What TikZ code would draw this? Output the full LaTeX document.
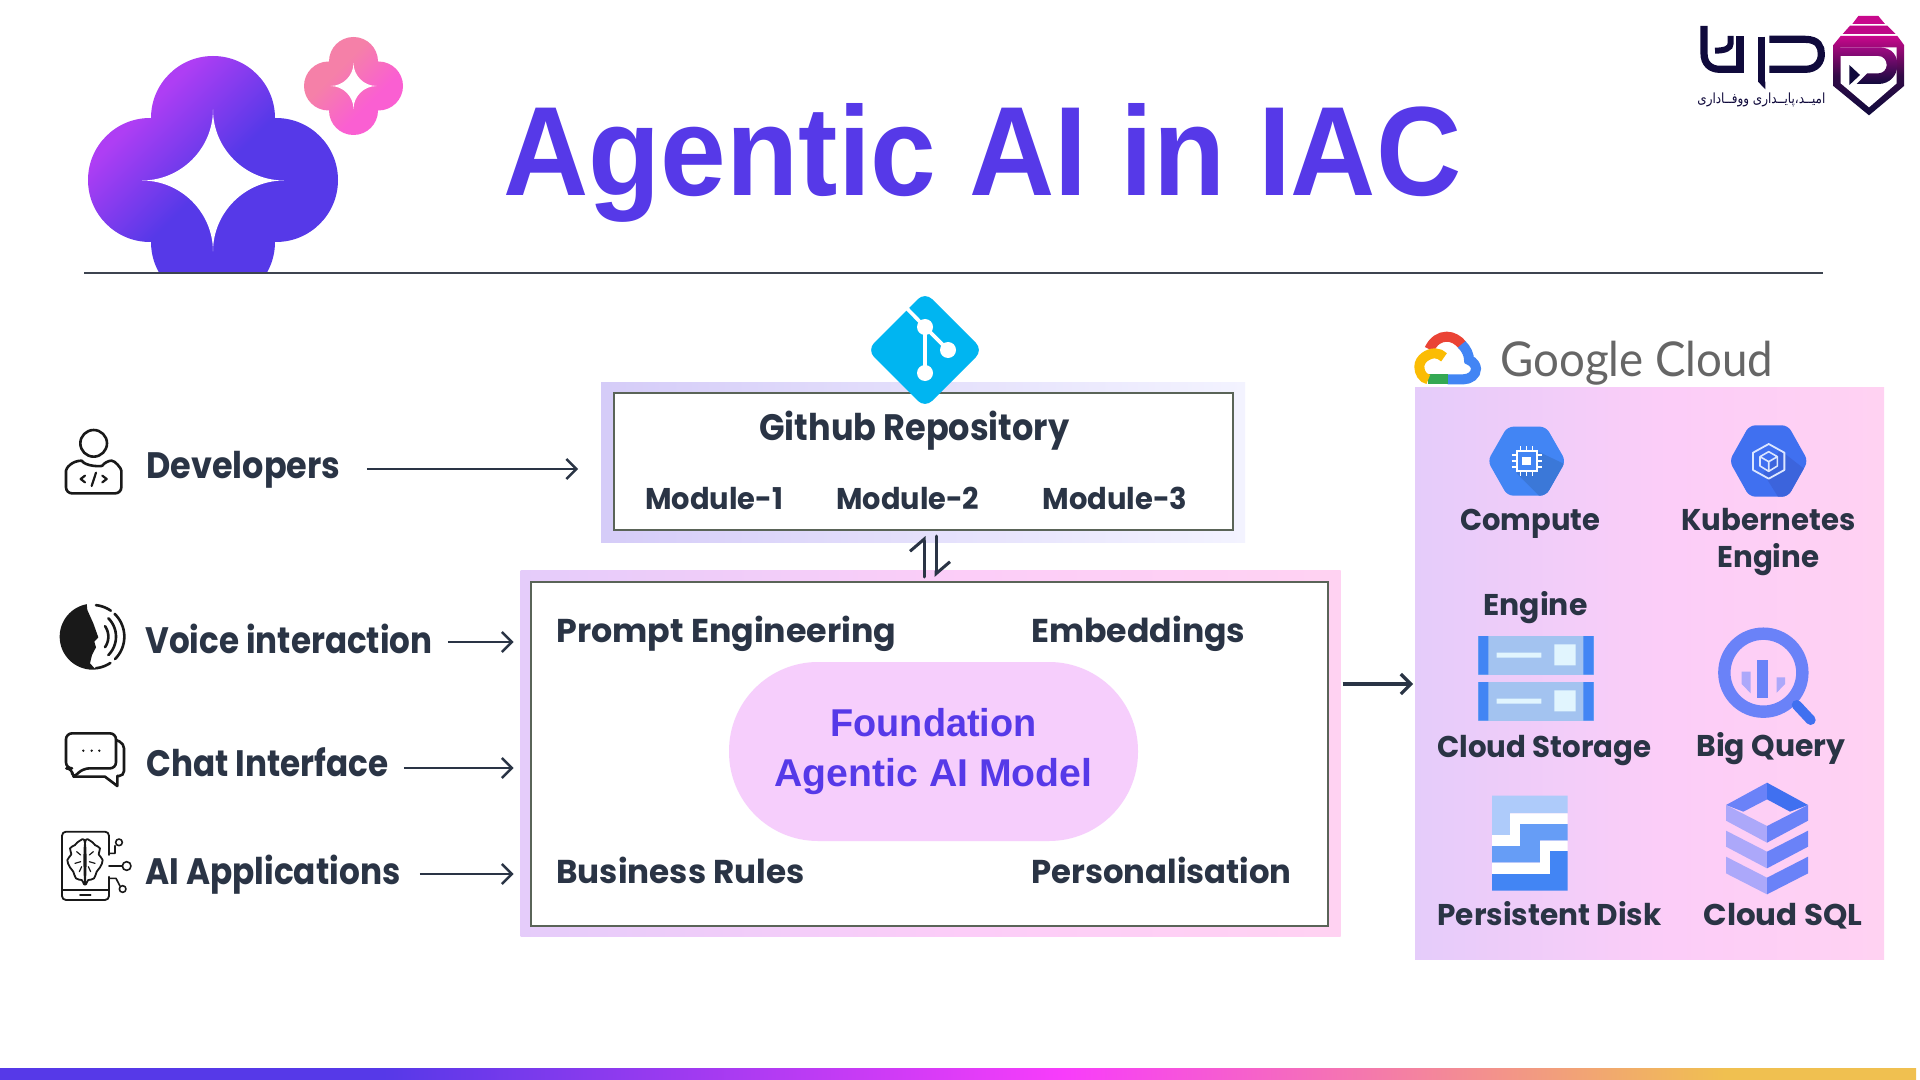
\documentclass[tikz,border=0pt]{standalone}
\usepackage{fontspec}
\usepackage{graphicx}
\usetikzlibrary{arrows.meta,calc}
\TeXXeTstate=1
\setmainfont{Liberation Sans}
\newfontfamily\lblfont{Poppins}[UprightFont=* SemiBold,BoldFont=* Bold]
\newfontfamily\gcfont{Lato}
\newfontfamily\arabicfont[Script=Arabic]{DejaVu Sans}
\definecolor{ink}{HTML}{2A3445}
\definecolor{vio}{HTML}{5639E8}
\definecolor{navy}{HTML}{100A3C}
\definecolor{pill}{HTML}{F6CEFC}
\definecolor{rule}{HTML}{3D4450}
\definecolor{gblue}{HTML}{4285F4}
\definecolor{gblued}{HTML}{3B78D8}
\definecolor{kblue}{HTML}{4070F0}
\definecolor{kblued}{HTML}{3C64DC}
\definecolor{iblue}{HTML}{6A82F8}
\definecolor{lilac}{HTML}{ACA8FA}
\definecolor{boxline}{HTML}{5A6458}
\definecolor{gitblue}{HTML}{00B5F1}
\definecolor{magA}{HTML}{C8088C}
\definecolor{magB}{HTML}{BE0887}
\definecolor{magC}{HTML}{A00A82}
\definecolor{magM}{HTML}{320A46}
\definecolor{gred}{HTML}{EA4335}
\definecolor{ggreen}{HTML}{34A853}
\definecolor{gyellow}{HTML}{FBBC04}
\definecolor{stor}{HTML}{A3C3F0}
\definecolor{storw}{HTML}{E1F5FE}
\definecolor{pdA}{HTML}{AECBFA}
\definecolor{pdB}{HTML}{669DF6}
\definecolor{kwhite}{HTML}{DCE6FF}
\definecolor{ra}{HTML}{D5CCF8}\definecolor{rb}{HTML}{F3F3FF}
\definecolor{ca}{HTML}{E5CCFA}\definecolor{cb}{HTML}{FCCDF8}\definecolor{cc}{HTML}{FFD2F2}
\definecolor{ba}{HTML}{5639E8}\definecolor{bb}{HTML}{F83CFB}\definecolor{bc}{HTML}{F0C050}
\definecolor{ia}{HTML}{AE3EF4}\definecolor{ja}{HTML}{F580A8}\definecolor{jb}{HTML}{FA5FD2}
\pgfdeclarehorizontalshading{repoS}{100bp}{color(0bp)=(ra); color(25bp)=(ra); color(75bp)=(rb); color(100bp)=(rb)}
\pgfdeclarehorizontalshading{coreS}{100bp}{color(0bp)=(ca); color(25bp)=(ca); color(52bp)=(cb); color(75bp)=(cc); color(100bp)=(cc)}
\pgfdeclarehorizontalshading{barS}{100bp}{color(0bp)=(ba); color(35bp)=(ba); color(52.75bp)=(bb); color(70bp)=(bc); color(100bp)=(bc)}
\pgfdeclarehorizontalshading{bigS}{100bp}{color(0bp)=(ia); color(33bp)=(ia); color(50bp)=(ba); color(100bp)=(ba)}
\pgfdeclarehorizontalshading{smallS}{100bp}{color(0bp)=(ja); color(40bp)=(ja); color(60bp)=(jb); color(100bp)=(jb)}
\newcommand\tw[2]{\resizebox{#1pt}{\height}{#2}}
\newcommand\starshape[3]{%
  \fill[white] (#1,#2-#3) .. controls (#1,#2-0.45*#3) and (#1-0.45*#3,#2) .. (#1-#3,#2)
   .. controls (#1-0.45*#3,#2) and (#1,#2+0.45*#3) .. (#1,#2+#3)
   .. controls (#1,#2+0.45*#3) and (#1+0.45*#3,#2) .. (#1+#3,#2)
   .. controls (#1+0.45*#3,#2) and (#1,#2-0.45*#3) .. cycle;}
\tikzset{
  lblL/.style={anchor=base west,inner sep=0pt,text=ink,font=\lblfont\bfseries\fontsize{18.4}{22}\selectfont},
  lblM/.style={anchor=base west,inner sep=0pt,text=ink,font=\lblfont\bfseries\fontsize{16.5}{20}\selectfont},
  lblS/.style={anchor=base west,inner sep=0pt,text=ink,font=\lblfont\bfseries\fontsize{15}{18}\selectfont},
  arrowline/.style={draw=ink,line width=1.2pt,-{Straight Barb[length=5pt,width=10pt,line width=1.2pt]}},
  harp/.style={draw=ink,line width=1.5pt,line cap=round,-{Straight Barb[left,length=6pt,width=14pt,line width=1.5pt]}},
  panelbox/.style={inner sep=0pt,outer sep=0pt,shade},
  whitebox/.style={inner sep=0pt,outer sep=0pt,fill=white,draw=boxline,line width=1pt},
  zu/.style={x=0.166667pt,y=-0.166667pt},
  icon/.style={draw=black!90,line width=1.3pt,line cap=round,line join=round},
}
\begin{document}
\begin{tikzpicture}[x=0.5pt,y=-0.5pt]
\useasboundingbox (0,0) rectangle (1920,1080);
\fill[white] (0,0) rectangle (1920,1080);

% big emblem
\begin{scope}
 \clip (0,0) rectangle (600,273);
 \clip (213,118) circle (62) (150,180) circle (62) (276,180) circle (62) (213,242) circle (62);
 \shade[shading=bigS,shading angle=-45] (70,35) rectangle (356,321);
\end{scope}
\starshape{213}{180.5}{71}
% small emblem
\begin{scope}
 \clip (353.5,61.5) circle (24.5) (328.5,86) circle (24.5) (378.5,86) circle (24.5) (353.5,110.5) circle (24.5);
 \shade[shading=smallS,shading angle=-45] (295,28) rectangle (412,145);
\end{scope}
\starshape{353.5}{86}{23}

% title + rule
\node[anchor=base west,inner sep=0pt,text=vio,font=\bfseries\fontsize{63.5}{70}\selectfont] (title) at (503,196) {\tw{479}{Agentic AI in IAC}};
\coordinate (ruleL) at (84,273);\coordinate (ruleR) at (1823,273);
\draw[rule,line width=0.8pt] (ruleL) -- (ruleR);

% logo
\begin{scope}[shift={(1690,10)},zu]
 \fill[magA] (505,18) -- (565,18) -- (585,42) -- (487,42) -- cycle;
 \fill[magB] (480,47) -- (592,47) -- (617,72) -- (458,72) -- cycle;
 \shade[top color=magA,bottom color=navy,middle color=magM]
   (452,78) -- (622,78) -- (642,105) -- (642,228) -- (537,316) -- (430,228) -- (430,105) -- cycle;
 \fill[white] (452,112) -- (620,112) -- (620,220) -- (537,292) -- (452,220) -- cycle;
 \shade[top color=magC,bottom color=navy]
   (452,112) -- (565,112) .. controls (610,112) and (622,140) .. (622,165) .. controls (622,195) and (600,222) .. (565,222) -- (500,222) -- (532,190) -- (565,190) .. controls (580,190) and (590,178) .. (590,165) .. controls (590,150) and (580,138) .. (565,138) -- (452,138) -- cycle;
 \fill[navy] (478,165) -- (510,195) -- (478,225) -- cycle;
 \draw[navy,line width=3.6pt] (42,48) -- (42,130) .. controls (42,160) and (60,178) .. (90,178) -- (150,178);
 \draw[navy,line width=3.6pt] (150,188) -- (150,78);
 \draw[navy,line width=3pt] (122,78) -- (122,100) .. controls (122,115) and (105,122) .. (75,122);
 \draw[navy,line width=3.6pt] (215,80) -- (215,215);
 \fill[navy] (204,215) -- (226,215) -- (226,238) -- cycle;
 \draw[navy,line width=3.6pt] (238,88) -- (345,88) .. controls (385,88) and (394,110) .. (394,132) .. controls (394,155) and (380,178) .. (345,178) -- (238,178);
\end{scope}
\node[anchor=base west,inner sep=0pt,text=navy,font=\arabicfont\fontsize{7}{9}\selectfont] (logotext) at (1697,104) {\tw{64}{\beginR امیــد،پایــداری ووفــاداری\endR}};

% left labels
\node[lblL] (dev) at (146,478) {\tw{97}{Developers}};
\node[lblL] (voice) at (145,653) {\tw{143.5}{Voice interaction}};
\node[lblL] (chat) at (146,776) {\tw{121}{Chat Interface}};
\node[lblL] (aiapp) at (145,884) {\tw{127.5}{AI Applications}};

% left icons
\begin{scope}[shift={(40,410)},zu]
 \draw[icon] (161,100) circle (40);
 \draw[icon,rounded corners=3pt] (125,152) .. controls (95,152) and (78,175) .. (78,200) -- (78,250) -- (244,250) -- (244,200) .. controls (244,175) and (225,152) .. (197,152) .. controls (185,170) and (137,170) .. (125,152);
 \draw[icon,line width=1.1pt] (135,197) -- (122,207) -- (135,217) (168,188) -- (155,228) (187,197) -- (200,207) -- (187,217);
 \begin{scope}
  \clip (158,680) circle (99);
  \fill[black!90] (0,560) -- (138,560) -- (142,600) -- (160,640) -- (175,682) -- (163,695) -- (168,712) -- (156,735) -- (150,760) -- (178,790) -- (0,790) -- cycle;
 \end{scope}
 \draw[icon] plot[domain=-35:35,samples=20]({150+55*cos(\x)},{680+55*sin(\x)});
 \draw[icon] plot[domain=-45:45,samples=20]({150+78*cos(\x)},{680+78*sin(\x)});
 \draw[icon] plot[domain=-84:-55,samples=20]({158+95*cos(\x)},{680+95*sin(\x)});
 \draw[icon] plot[domain=-46:45,samples=20]({158+95*cos(\x)},{680+95*sin(\x)});
 \draw[icon] plot[domain=56:84,samples=20]({158+95*cos(\x)},{680+95*sin(\x)});
 \draw[icon,rounded corners=3pt] (78,970) -- (228,970) -- (228,1075) -- (130,1075) -- (97,1105) -- (97,1075) -- (78,1075) -- cycle;
 \draw[icon,rounded corners=2.5pt] (228,990) -- (252,1000) -- (252,1098) -- (232,1098);
 \draw[icon] (232,1098) -- (232,1128) -- (195,1100) -- (100,1100);
 \foreach \q in {130,155,178} \fill[black!90] (\q,1022) circle (4);
 \draw[icon,line width=0.9pt,rounded corners=2pt] (207,1335) -- (207,1265) -- (66,1265) -- (66,1470) -- (207,1470) -- (207,1400);
 \draw[icon,line width=0.8pt] (66,1440) -- (207,1440) (120,1455) -- (152,1455);
 \draw[icon,line width=0.9pt] plot[smooth cycle,tension=0.7] coordinates {(135,1300) (118,1293) (105,1305) (90,1315) (94,1333) (82,1350) (90,1372) (100,1385) (108,1405) (125,1410) (135,1415)};
 \draw[icon,line width=0.9pt] plot[smooth cycle,tension=0.7] coordinates {(135,1300) (152,1293) (165,1305) (180,1315) (176,1333) (188,1350) (180,1372) (170,1385) (162,1405) (145,1410) (135,1415)};
 \draw[icon,line width=0.6pt] (110,1325) -- (122,1335) (105,1360) -- (122,1355) (118,1385) -- (125,1370) (160,1325) -- (148,1335) (165,1360) -- (148,1355) (152,1385) -- (145,1370);
 \draw[icon,line width=0.8pt] (207,1330) -- (225,1330) -- (225,1307) (207,1368) -- (247,1368) (207,1405) -- (228,1405) -- (240,1428);
 \draw[icon,line width=0.8pt] (237,1297) circle (10) (260,1368) circle (13) (248,1437) circle (10);
\end{scope}

% repository
\node[panelbox,shading=repoS,minimum width=322pt,minimum height=80pt] (repoouter) at (923,462) {};
\node[whitebox,minimum width=309.25pt,minimum height=68.5pt] (repo) at (923.25,461.5) {};
\fill[gitblue,rounded corners=5pt] (925,292) -- (983,350) -- (925,408) -- (867,350) -- cycle;
\draw[white,line width=1.8pt] (906.5,308) -- (925,327) -- (948,350) (925,327) -- (925,373);
\fill[white] (925,327) circle (8) (948,350) circle (8) (925,373) circle (8);
\node[lblL] (repotitle) at (759,440.5) {\tw{155}{Github Repository}};
\node[lblS] (m1) at (645,509) {\tw{69}{Module-1}};
\node[lblS] (m2) at (836,509) {\tw{71.5}{Module-2}};
\node[lblS] (m3) at (1042,509) {\tw{72.5}{Module-3}};

% core
\node[panelbox,shading=coreS,minimum width=410pt,minimum height=183pt] (coreouter) at (930.5,753.25) {};
\node[whitebox,minimum width=398.3pt,minimum height=172pt] (core) at (929.3,754) {};
\node[lblM] (pe) at (556,642) {\tw{170}{Prompt Engineering}};
\node[lblM] (emb) at (1031,642) {\tw{107}{Embeddings}};
\node[lblM] (br) at (556,883.5) {\tw{124}{Business Rules}};
\node[lblM] (pers) at (1031,883.5) {\tw{130}{Personalisation}};
\node[fill=pill,inner sep=0pt,rounded corners=44.5pt,minimum width=204.5pt,minimum height=89.5pt,align=center,text=vio,font=\bfseries\fontsize{19.4}{25}\selectfont] (model) at (933.5,751.5) {\tw{103}{Foundation}\\\tw{159}{Agentic AI Model}};

% cloud panel
\node[panelbox,shading=coreS,minimum width=234.5pt,minimum height=286pt] (cloud) at (1649.5,673) {};
\node[anchor=base west,inner sep=0pt,text=black!60,font=\gcfont\fontsize{24}{28}\selectfont] (gc) at (1500,377) {\tw{136.5}{Google Cloud}};
\begin{scope}[shift={(1400,310)},zu]
 \draw[gred,line width=5pt] (88,118) .. controls (100,92) and (120,80) .. (140,80) .. controls (158,80) and (175,90) .. (187,105);
 \draw[gblue,line width=5pt] (185,103) .. controls (200,118) and (207,135) .. (207,150) .. controls (222,155) and (228,170) .. (228,176) .. controls (228,195) and (210,208) .. (190,208) -- (143,208);
 \draw[ggreen,line width=5pt] (143,208) -- (85,208);
 \draw[gyellow,line width=5pt] (85,208) .. controls (68,205) and (58,188) .. (58,170) .. controls (58,146) and (85,130) .. (105,130) .. controls (115,130) and (125,135) .. (132,142);
 \begin{scope}
  \clip[rounded corners=3pt] (263,453) -- (322,350) -- (438,350) -- (497,453) -- (438,557) -- (322,557) -- cycle;
  \fill[gblue] (250,340) rectangle (510,570);
  \fill[gblued] (350,490) -- (415,425) -- (510,470) -- (510,570) -- (430,570) -- cycle;
 \end{scope}
 \draw[white,line width=0.8pt] (362,408) -- (362,498) (380,408) -- (380,498) (398,408) -- (398,498) (335,435) -- (425,435) (335,453) -- (425,453) (335,471) -- (425,471);
 \fill[gblue] (350,423) rectangle (410,483);
 \draw[white,line width=0.9pt] (350,423) rectangle (410,483);
 \fill[white] (367,440) rectangle (393,466);
 \begin{scope}
  \clip[rounded corners=3pt] (988,453) -- (1048,346) -- (1164,346) -- (1224,453) -- (1164,560) -- (1048,560) -- cycle;
  \fill[kblue] (980,340) rectangle (1230,570);
  \fill[kblued] (1090,490) -- (1140,420) -- (1230,490) -- (1230,570) -- (1140,570) -- cycle;
 \end{scope}
 \draw[kwhite,line width=0.9pt,line join=round] (1106,402) -- (1153,428) -- (1153,480) -- (1106,506) -- (1059,480) -- (1059,428) -- cycle;
 \draw[kwhite,line width=0.8pt,line join=round] (1106,425) -- (1132,440) -- (1132,468) -- (1106,484) -- (1080,468) -- (1080,440) -- cycle (1080,440) -- (1106,455) -- (1132,440) (1106,455) -- (1106,484);
 \begin{scope}[shift={(0,840)}]
  \foreach \d in {0,138}{
   \fill[stor] (235,138+\d) rectangle (581,254+\d);
   \fill[gblue] (235,138+\d) rectangle (265,254+\d) (550,138+\d) rectangle (581,254+\d);
   \fill[storw] (290,188+\d) rectangle (424,203+\d) (463,163+\d) rectangle (527,226+\d);
  }
  \draw[iblue,line width=6.2pt] (1090,248) circle (117);
  \draw[kblue,line width=5pt,line cap=round] (1190,345) -- (1232,390);
  \fill[iblue] (1072,210) rectangle (1104,323);
  \fill[lilac] (1025,245) -- (1052,245) -- (1052,310) -- (1025,282) -- cycle;
  \fill[lilac] (1130,262) -- (1155,262) -- (1155,282) -- (1130,308) -- cycle;
  \fill[pdA] (276,617) -- (503,617) -- (503,670) -- (330,670) -- (330,735) -- (276,735) -- cycle;
  \fill[white] (330,670) -- (503,670) -- (503,702) -- (360,702) -- (360,768) -- (276,768) -- (276,735) -- (330,735) -- cycle;
  \fill[pdB] (360,702) -- (503,702) -- (503,752) -- (420,752) -- (420,818) -- (276,818) -- (276,768) -- (360,768) -- cycle;
  \fill[white] (420,752) -- (503,752) -- (503,783) -- (450,783) -- (450,852) -- (276,852) -- (276,818) -- (420,818) -- cycle;
  \fill[gblue] (450,783) -- (503,783) -- (503,902) -- (276,902) -- (276,852) -- (450,852) -- cycle;
  \fill[iblue] (978,645) -- (1101,578) -- (1101,628) -- (1030,665) -- cycle;
  \fill[kblue] (1224,645) -- (1101,578) -- (1101,628) -- (1170,665) -- cycle;
  \fill[lilac] (978,645) -- (1101,708) -- (1101,758) -- (978,692) -- cycle;
  \fill[iblue] (1224,645) -- (1101,708) -- (1101,758) -- (1224,692) -- cycle;
  \fill[lilac] (978,722) -- (1101,785) -- (1101,835) -- (978,770) -- cycle;
  \fill[iblue] (1224,722) -- (1101,785) -- (1101,835) -- (1224,770) -- cycle;
  \fill[lilac] (978,800) -- (1101,863) -- (1101,913) -- (978,850) -- cycle;
  \fill[iblue] (1224,800) -- (1101,863) -- (1101,913) -- (1224,850) -- cycle;
 \end{scope}
\end{scope}
\node[lblS] (lcomp) at (1460,530) {\tw{70}{Compute}};
\node[lblS] (lkub) at (1681,530) {\tw{87}{Kubernetes}};
\node[lblS] (lkub2) at (1717,567) {\tw{51}{Engine}};
\node[lblS] (lcomp2) at (1483,615) {\tw{52}{Engine}};
\node[lblS] (lstor) at (1437,757) {\tw{107}{Cloud Storage}};
\node[lblS] (lbq) at (1696,756) {\tw{74.5}{Big Query}};
\node[lblS] (lpd) at (1437,925) {\tw{112}{Persistent Disk}};
\node[lblS] (lsql) at (1703,925) {\tw{79.5}{Cloud SQL}};

% connectors
\coordinate (ydev) at (0,469);\coordinate (yvoice) at (0,642);\coordinate (ychat) at (0,768);\coordinate (yai) at (0,874);\coordinate (ycloud) at (0,684);
\coordinate (hx1) at (924,0);\coordinate (hx2) at (936,0);
\draw[arrowline,shorten <=13pt,shorten >=11.5pt] (dev.east |- ydev) -- (repoouter.west |- ydev);
\draw[arrowline,shorten <=7.5pt,shorten >=3.5pt] (voice.east |- yvoice) -- (coreouter.west |- yvoice);
\draw[arrowline,shorten <=7.5pt,shorten >=3.5pt] (chat.east |- ychat) -- (coreouter.west |- ychat);
\draw[arrowline,shorten <=9.5pt,shorten >=3.5pt] (aiapp.east |- yai) -- (coreouter.west |- yai);
\draw[draw=ink,line width=2pt,shorten <=1pt,shorten >=1pt,-{Straight Barb[length=5pt,width=10pt,line width=1.6pt]}] (coreouter.east |- ycloud) -- (cloud.west |- ycloud);
\draw[harp,shorten <=2.5pt,shorten >=3pt] (core.north -| hx1) -- (repo.south -| hx1);
\draw[harp,shorten <=3pt,shorten >=2.5pt] (repo.south -| hx2) -- (core.north -| hx2);

% bottom bar
\shade[shading=barS] (0,1068) rectangle (1916,1079);
\end{tikzpicture}
\end{document}
